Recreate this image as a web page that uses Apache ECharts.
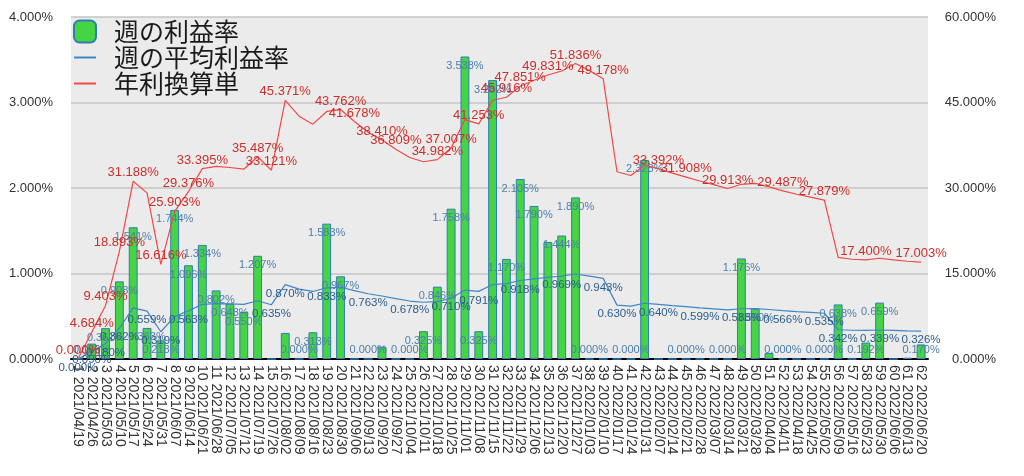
<!DOCTYPE html>
<html>
<head>
<meta charset="utf-8">
<script src="https://cdn.jsdelivr.net/npm/echarts@6/dist/echarts.min.js"></script>
<style>
html,body{margin:0;padding:0;background:#fff;}
#c{width:1024px;height:476px;}
</style>
</head>
<body>
<div id="c"></div>
<script>
const categories = [
"1 2021/04/19","2 2021/04/26","3 2021/05/03","4 2021/05/10","5 2021/05/17","6 2021/05/24","7 2021/05/31","8 2021/06/07","9 2021/06/14","10 2021/06/21",
"11 2021/06/28","12 2021/07/05","13 2021/07/12","14 2021/07/19","15 2021/07/26","16 2021/08/02","17 2021/08/09","18 2021/08/16","19 2021/08/23","20 2021/08/30",
"21 2021/09/06","22 2021/09/13","23 2021/09/20","24 2021/09/27","25 2021/10/04","26 2021/10/11","27 2021/10/18","28 2021/10/25","29 2021/11/01","30 2021/11/08",
"31 2021/11/15","32 2021/11/22","33 2021/11/29","34 2021/12/06","35 2021/12/13","36 2021/12/20","37 2021/12/27","38 2022/01/03","39 2022/01/10","40 2022/01/17",
"41 2022/01/24","42 2022/01/31","43 2022/02/07","44 2022/02/14","45 2022/02/21","46 2022/02/28","47 2022/03/07","48 2022/03/14","49 2022/03/21","50 2022/03/28",
"51 2022/04/04","52 2022/04/11","53 2022/04/18","54 2022/04/25","55 2022/05/02","56 2022/05/09","57 2022/05/16","58 2022/05/23","59 2022/05/30","60 2022/06/06",
"61 2022/06/13","62 2022/06/20"
];
// 週の利益率 (%)
const weeklyRate = [
0.000,0.180,0.361,0.908,1.541,0.363,0.218,1.744,1.096,1.334,
0.802,0.648,0.550,1.207,0.000,0.305,0.000,0.313,1.583,0.967,
0.000,0.000,0.145,0.000,0.000,0.325,0.846,1.758,3.538,0.325,
3.262,1.170,2.105,1.790,1.368,1.444,1.890,0.000,0.000,0.000,
0.000,2.328,0.000,0.000,0.000,0.000,0.000,0.000,1.176,0.590,
0.070,0.000,0.000,0.000,0.000,0.638,0.000,0.192,0.659,0.000,
0.015,0.170
];
// 週の平均利益率 (%)
const weeklyAvg = [
0.000,0.090,0.180,0.362,0.598,0.559,0.319,0.497,0.563,0.640,
0.648,0.645,0.638,0.681,0.635,0.870,0.817,0.790,0.833,0.839,
0.799,0.763,0.737,0.706,0.678,0.664,0.671,0.710,0.806,0.791,
0.871,0.881,0.918,0.938,0.956,0.969,0.994,0.970,0.943,0.630,
0.618,0.652,0.640,0.625,0.612,0.599,0.587,0.574,0.588,0.590,
0.579,0.566,0.555,0.545,0.535,0.342,0.336,0.334,0.339,0.334,
0.329,0.326
];
// 年利換算単 (%)
const annualRate = [
0.000,4.684,9.403,18.893,31.188,29.150,16.616,25.903,29.376,33.395,
33.800,33.600,33.300,35.487,33.121,45.371,42.600,41.200,43.430,43.762,
41.678,39.780,38.410,36.809,35.350,34.600,34.982,37.007,42.000,41.253,
45.400,45.916,47.851,48.900,49.831,50.520,51.836,50.600,49.178,32.850,
32.200,34.000,33.392,32.600,31.908,31.230,30.600,29.913,30.650,30.800,
30.200,29.487,28.900,28.400,27.879,17.830,17.500,17.400,17.680,17.400,
17.150,17.003
];
const leftTicks = [0,1,2,3,4];
const rightTicks = [0,15,30,45,60];

// weeks whose value labels are visible in the reference (others overlap and are hidden)
const barLabelHidden = [1,15,16,21,23,24,35,39,40,43,44,46,47,51,53,54,57,60,61];
const avgLabelWeeks = [1,2,3,4,6,7,9,15,16,19,22,25,28,30,33,36,39,40,43,46,49,52,55,56,59,62];
const annLabelWeeks = [1,2,3,4,5,7,8,9,10,14,15,16,20,21,23,24,27,28,30,32,33,35,37,39,43,45,48,52,55,58,62];

const numFont = '"Liberation Sans", Arial, sans-serif';
const fmt = v => Number(v).toFixed(3) + '%';

const barData = weeklyRate.map((v, i) => ({
  value: v,
  label: { show: !barLabelHidden.includes(i + 1), position: v < 0.25 ? 'insideBottom' : 'insideTop' }
}));
const avgData = weeklyAvg.map((v, i) => ({ value: v, label: { show: avgLabelWeeks.includes(i + 1) } }));
const annData = annualRate.map((v, i) => ({ value: v, label: { show: annLabelWeeks.includes(i + 1) } }));

const chart = echarts.init(document.getElementById('c'), null, { renderer: 'canvas' });
chart.setOption({
  animation: false,
  backgroundColor: '#ffffff',
  textStyle: { fontFamily: numFont },
  grid: { left: 71, right: 96, top: 17, bottom: 117, show: true, backgroundColor: '#ebebeb', borderWidth: 0 },
  legend: {
    orient: 'vertical', left: 73, top: 19, padding: 0, itemGap: 1,
    itemWidth: 22, itemHeight: 22,
    textStyle: { fontSize: 25, lineHeight: 25, color: '#1a1a1a', fontFamily: '"Noto Sans CJK JP", sans-serif', padding: [0, 0, 0, 13] },
    data: [
      { name: '週の利益率' },
      { name: '週の平均利益率', itemStyle: { opacity: 0 } },
      { name: '年利換算単', itemStyle: { opacity: 0 } }
    ]
  },
  xAxis: {
    type: 'category', data: categories, boundaryGap: true,
    axisLine: { lineStyle: { color: '#000', width: 2 } },
    axisTick: { show: false },
    axisLabel: { interval: 0, rotate: -90, fontSize: 14, color: '#333', margin: 6, fontFamily: numFont },
    splitLine: { show: false }
  },
  yAxis: [
    {
      type: 'value', min: leftTicks[0], max: leftTicks[leftTicks.length - 1], interval: leftTicks[1] - leftTicks[0],
      axisLine: { show: false }, axisTick: { show: false },
      axisLabel: { formatter: fmt, fontSize: 13, color: '#333', margin: 18, fontFamily: numFont },
      splitLine: { lineStyle: { color: '#c4c4c4', width: 1.5 } }
    },
    {
      type: 'value', min: rightTicks[0], max: rightTicks[rightTicks.length - 1], interval: rightTicks[1] - rightTicks[0],
      axisLine: { show: false }, axisTick: { show: false },
      axisLabel: { formatter: fmt, fontSize: 13, color: '#333', margin: 68, align: 'right', fontFamily: numFont },
      splitLine: { show: false }
    }
  ],
  series: [
    {
      name: '週の利益率', type: 'bar', data: barData, barWidth: '64%',
      itemStyle: { color: '#44d444', borderColor: '#2f7db5', borderWidth: 1 },
      label: { show: true, formatter: p => fmt(p.value), fontSize: 11, color: '#4d7fa8', distance: 4, fontFamily: numFont },
      z: 2
    },
    {
      name: '週の平均利益率', type: 'line', data: avgData,
      symbol: 'circle', symbolSize: 0, showSymbol: true,
      lineStyle: { color: '#3e86c4', width: 1.2 }, itemStyle: { color: '#3e86c4' },
      label: { show: true, position: 'bottom', distance: 3, formatter: p => fmt(p.value), fontSize: 11.5, color: '#2b5d8c', fontFamily: numFont },
      z: 3
    },
    {
      name: '年利換算単', type: 'line', yAxisIndex: 1, data: annData,
      symbol: 'circle', symbolSize: 0, showSymbol: true,
      lineStyle: { color: '#f24848', width: 1.2 }, itemStyle: { color: '#f24848' },
      label: { show: true, position: 'top', distance: 2, formatter: p => fmt(p.value), fontSize: 13, color: '#c9302c', fontFamily: numFont },
      z: 4
    }
  ]
});
</script>
</body>
</html>
